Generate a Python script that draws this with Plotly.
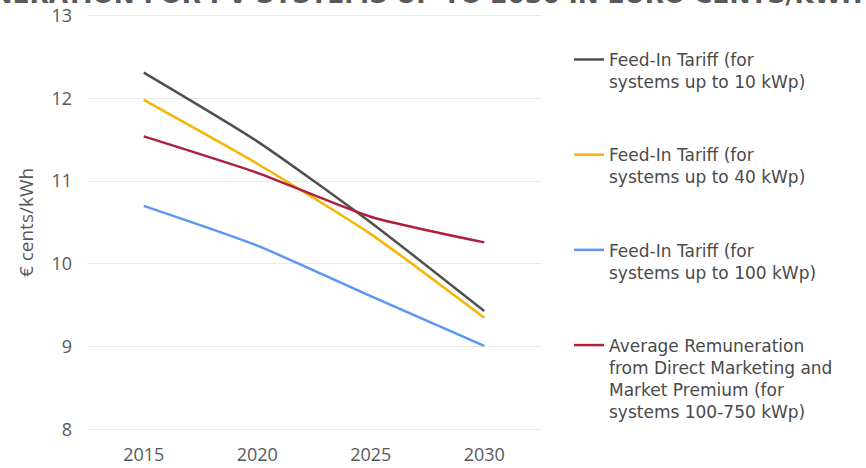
import plotly.graph_objects as go

years = ["2015", "2020", "2025", "2030"]
fit_10 = [12.31, 11.48, 10.50, 9.43]
fit_40 = [11.98, 11.21, 10.36, 9.35]
fit_100 = [10.70, 10.22, 9.61, 9.01]
avg_dm = [11.54, 11.10, 10.57, 10.26]

names = [
    "Feed-In Tariff (for<br>systems up to 10 kWp)",
    "Feed-In Tariff (for<br>systems up to 40 kWp)",
    "Feed-In Tariff (for<br>systems up to 100 kWp)",
    "Average Remuneration<br>from Direct Marketing and<br>Market Premium (for<br>systems 100-750 kWp)",
]
colors = ["#505050", "#f7b500", "#5b96f4", "#b01f3c"]
series = [fit_10, fit_40, fit_100, avg_dm]

fig = go.Figure()
for i, (nm, col, vals) in enumerate(zip(names, colors, series)):
    fig.add_trace(go.Scatter(
        x=years, y=vals, name=nm, mode="lines",
        line=dict(color=col, width=2.5, shape="spline", smoothing=0.6),
        legendgroup=f"g{i}",
    ))

fig.update_layout(
    width=866, height=468,
    margin=dict(l=87, r=325, t=13, b=36, autoexpand=False),
    paper_bgcolor="white", plot_bgcolor="white",
    showlegend=True,
    legend=dict(
        x=1.0617, xanchor="left", y=0.931, yanchor="top",
        font=dict(family="DejaVu Sans", size=17, color="#4a4a4a"),
        valign="top", tracegroupgap=48, bgcolor="rgba(0,0,0,0)",
    ),
    xaxis=dict(
        type="category", range=[-0.5, 3.5], showgrid=False, zeroline=False,
        showline=False, ticks="", automargin=False, ticklabelstandoff=10,
        tickfont=dict(family="Open Sans", size=18, color="#595959"),
    ),
    yaxis=dict(
        range=[7.97, 13.03], dtick=1, showgrid=True, gridcolor="#e8e8e8", gridwidth=1,
        zeroline=False, showline=False, ticks="", automargin=False,
        ticklabelstandoff=14,
        tickfont=dict(family="Open Sans", size=18, color="#595959"),
        title=dict(text="€ cents/kWh", standoff=12,
                   font=dict(family="Open Sans", size=19, color="#595959")),
    ),
)

fig.add_annotation(
    text="<b>REMUNERATION FOR PV SYSTEMS UP TO 2030 IN EURO CENTS/KWH</b>",
    xref="paper", yref="paper", x=-0.394, y=1.005, xanchor="left", yanchor="bottom",
    showarrow=False, font=dict(family="DejaVu Sans", size=25, color="#5a5a5a"),
)

fig.write_html("out.html")
